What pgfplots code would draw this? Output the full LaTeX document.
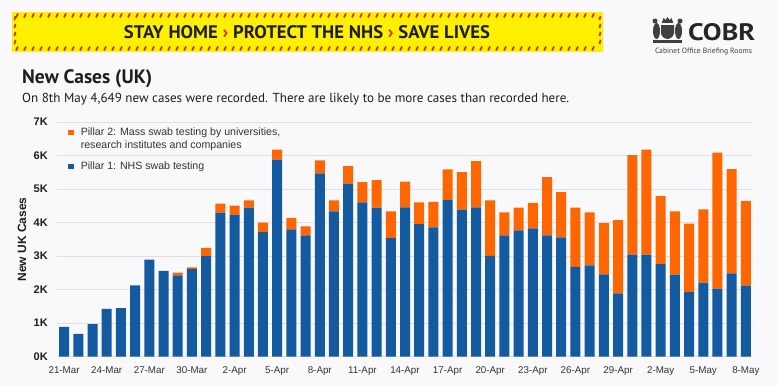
\documentclass[border=0pt]{standalone}
\usepackage{pgfplots}
\pgfplotsset{compat=1.18}
\usepackage{graphicx}
\usepackage{fontspec}
\setmainfont{Liberation Sans}
\newfontfamily\ptsans{PT Sans}
\definecolor{bgc}{RGB}{249,249,251}
\definecolor{ban}{RGB}{255,240,0}
\definecolor{banred}{RGB}{226,35,26}
\definecolor{pblue}{RGB}{20,90,160}
\definecolor{porange}{RGB}{255,102,0}
\definecolor{txt}{RGB}{30,30,30}
\pgfplotstableread{
i blue orange
0 890 0
1 680 0
2 970 0
3 1430 0
4 1450 0
5 2130 0
6 2900 0
7 2560 0
8 2430 80
9 2620 50
10 3000 250
11 4300 270
12 4240 270
13 4450 220
14 3720 280
15 5880 300
16 3800 340
17 3620 270
18 5470 390
19 4340 330
20 5170 520
21 4610 600
22 4450 820
23 3540 800
24 4460 770
25 3960 650
26 3860 760
27 4680 910
28 4390 1120
29 4460 1380
30 3010 1660
31 3620 690
32 3770 680
33 3830 760
34 3620 1740
35 3560 1350
36 2680 1770
37 2730 1580
38 2460 1530
39 1890 2190
40 3050 2970
41 3050 3130
42 2760 2030
43 2450 1890
44 1930 2040
45 2210 2190
46 2030 4060
47 2490 3110
48 2120 2530
}\cases
\begin{document}
\begin{tikzpicture}
\fill[bgc] (0,0) rectangle (777bp,-385bp);
% banner
\fill[ban] (12bp,-12bp) rectangle (603bp,-52bp);
\foreach \x in {16,24,...,598} {
  \draw[banred, line width=1.6bp] (\x bp,-17.5bp) -- (\x bp+2bp,-13.5bp);
  \draw[banred, line width=1.6bp] (\x bp,-50.5bp) -- (\x bp+2bp,-46.5bp);
}
\foreach \y in {20,28,...,44} {
  \draw[banred, line width=1.6bp] (14.5bp,-\y bp) -- (15.5bp,-\y bp+4bp);
  \draw[banred, line width=1.6bp] (599.5bp,-\y bp) -- (600.5bp,-\y bp+4bp);
}
\node[anchor=center, inner sep=0pt, text=txt] at (307bp,-32.5bp) {\resizebox{366bp}{13bp}{\ptsans\bfseries STAY HOME \textcolor{banred}{›} PROTECT THE NHS \textcolor{banred}{›} SAVE LIVES}};
% COBR logo (simplified crest)
\begin{scope}[fill=black!75]
\fill (662bp,-23bp) rectangle (673bp,-21bp);
\fill (662.5bp,-21bp) -- (663.5bp,-18bp) -- (665.5bp,-20bp) -- (667.5bp,-17bp) -- (669.5bp,-20bp) -- (671.5bp,-18bp) -- (672.5bp,-21bp) -- cycle;
\fill (661bp,-25bp) -- (674bp,-25bp) -- (674bp,-33bp) .. controls (674bp,-37bp) and (669bp,-39bp) .. (667.5bp,-39bp) .. controls (666bp,-39bp) and (661bp,-37bp) .. (661bp,-33bp) -- cycle;
\fill (656.5bp,-31bp) ellipse (3.5bp and 8bp);
\fill (678.5bp,-31bp) ellipse (3.5bp and 8bp);
\fill (655bp,-21bp) circle (2.5bp);
\fill (680bp,-21bp) circle (2.5bp);
\fill (653bp,-40bp) rectangle (682bp,-42.5bp);
\end{scope}
\node[anchor=base west, inner sep=0pt, text=black!85] at (688bp,-40bp) {\resizebox{67bp}{17bp}{\ptsans\bfseries COBR}};
\node[anchor=base, inner sep=0pt, text=black!75] at (703.5bp,-53.5bp) {\resizebox{97bp}{!}{\ptsans Cabinet Office Briefing Rooms}};
% titles
\node[anchor=base west, inner sep=0pt, text=txt] at (22bp,-83bp) {\resizebox{130bp}{!}{\ptsans\bfseries New Cases (UK)}};
\node[anchor=base west, inner sep=0pt, text=txt] at (22bp,-102bp) {\resizebox{547bp}{!}{\ptsans On 8th May 4,649 new cases were recorded. There are likely to be more cases than recorded here.}};
\begin{axis}[
  at={(57bp,-356.7bp)}, anchor=south west,
  width=696bp, height=234.5bp, scale only axis,
  xmin=-0.5, xmax=48.5, ymin=0, ymax=7000,
  ybar stacked, bar width=10bp,
  axis line style={draw=none},
  major tick style={draw=none},
  ymajorgrids, grid style={black!12, line width=0.8bp},
  xtick={0,3,...,48},
  xticklabels={21-Mar,24-Mar,27-Mar,30-Mar,2-Apr,5-Apr,8-Apr,11-Apr,14-Apr,17-Apr,20-Apr,23-Apr,26-Apr,29-Apr,2-May,5-May,8-May},
  ytick={0,1000,...,7000},
  yticklabels={0K,1K,2K,3K,4K,5K,6K,7K},
  /pgf/number format/assume math mode=true,
  yticklabel style={font=\fontsize{11bp}{13bp}\selectfont\bfseries, text=txt, inner sep=0pt, xshift=-9bp},
  xticklabel style={font=\fontsize{9.8bp}{11bp}\selectfont, text=black!80, inner sep=0pt, yshift=-10bp},
  ylabel={New UK Cases},
  every axis y label/.style={at={(axis description cs:-0.0503,0.5)}, anchor=center, rotate=90, font=\fontsize{12bp}{14bp}\selectfont\bfseries, text=txt},
  legend cell align=left,
  reverse legend,
  legend style={at={(axis description cs:0.0158,0.985)}, anchor=north west, draw=none, fill=none,
    font=\fontsize{10.6bp}{13bp}\selectfont, text=black!80, cells={align=left}, row sep=8bp, inner sep=0pt,
    /tikz/every odd column/.append style={column sep=5bp}},
  legend image code/.code={\fill (0bp,-2.8bp) rectangle (5.6bp,2.8bp);},
]
\addplot[fill=pblue, draw=none] table[x=i, y=blue] {\cases};
\addlegendentry{Pillar 1: NHS swab testing}
\addplot[fill=porange, draw=none, legend image code/.code={\fill (0bp,3.7bp) rectangle (5.6bp,9.3bp);}] table[x=i, y=orange] {\cases};
\addlegendentry{Pillar 2: Mass swab testing by universities,\\research institutes and companies}
\end{axis}
\end{tikzpicture}
\end{document}
